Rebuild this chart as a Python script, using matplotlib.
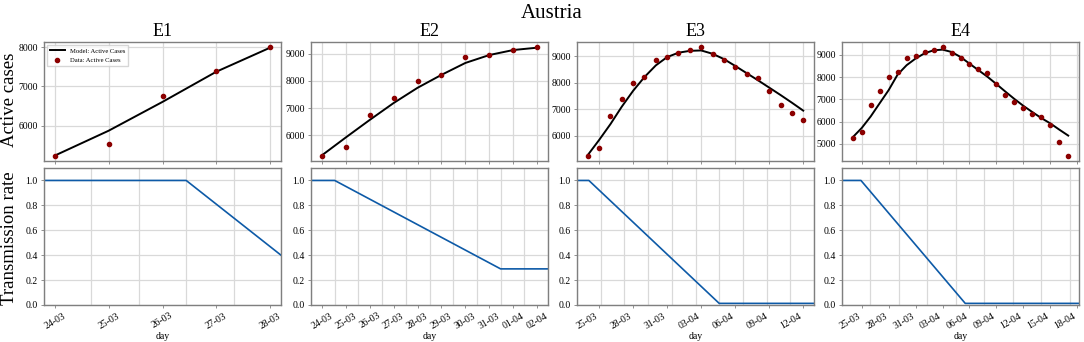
import matplotlib
matplotlib.use('Agg')
import matplotlib.pyplot as plt
import pandas as pd
from matplotlib.ticker import MultipleLocator, FixedLocator, NullFormatter

plt.rcParams['font.family'] = 'serif'
plt.rcParams['font.serif'] = ['Liberation Serif', 'DejaVu Serif']

# Datos observados: casos activos en Austria desde el 24-03
dias = pd.date_range('2020-03-24', periods=30, freq='D')
etiquetas = [d.strftime('%d-%m') for d in dias]
datos = [5250, 5550, 6750, 7380, 7990, 8230, 8880, 8960, 9130, 9230, 9340, 9100,
         8850, 8610, 8350, 8170, 7710, 7180, 6870, 6610, 6340, 6210, 5860, 5090, 4470]

# Curvas del modelo (una por experimento)
modelo_e1 = [5250, 5880, 6610, 7375, 7985]
modelo_e2 = [5256, 5915, 6560, 7183, 7744, 8220, 8659, 8950, 9134, 9220]
modelo_e3 = [5270, 5840, 6440, 7100, 7700, 8220, 8660, 8975, 9140, 9210,
             9225, 9100, 8900, 8640, 8370, 8100, 7820, 7540, 7250, 6950]
modelo_e4 = [5297, 5714, 6234, 6829, 7420, 8120, 8540, 8840, 9075, 9210, 9240, 9135,
             8910, 8610, 8315, 8020, 7690, 7350, 7020, 6710, 6430, 6160, 5920, 5640, 5370]

# Tasa de transmisión (puntos de quiebre en tiempo del modelo)
trans_t_e1 = [0, 3, 5]
trans_v_e1 = [1.0, 1.0, 0.4]
trans_t_e2 = [0, 1, 8, 10]
trans_v_e2 = [1.0, 1.0, 0.29, 0.29]
trans_t_e3 = [0, 1, 12, 20]
trans_v_e3 = [1.0, 1.0, 0.013, 0.013]
trans_t_e4 = [0, 2, 13, 25]
trans_v_e4 = [1.0, 1.0, 0.013, 0.013]

experimentos = [
    ('E1', modelo_e1, trans_t_e1, trans_v_e1, 5, 1, 1, 0, 'center'),
    ('E2', modelo_e2, trans_t_e2, trans_v_e2, 10, 1, 1, 0, 'center'),
    ('E3', modelo_e3, trans_t_e3, trans_v_e3, 20, 2, 3, 1, 'right'),
    ('E4', modelo_e4, trans_t_e4, trans_v_e4, 25, 3, 3, 1, 'right'),
]

gris_spine = '#7f7f7f'
gris_grid = '#d9d9d9'
azul = '#0d5aa7'

fig = plt.figure(figsize=(10.84, 3.42), dpi=100)
W, H = 1084.0, 342.0
izq = [44, 311, 577, 842]
ancho = 237

def estilo(ax):
    for s in ax.spines.values():
        s.set_color(gris_spine)
        s.set_linewidth(1.0)
    ax.tick_params(labelsize=7, length=2.5, width=0.6, color=gris_spine, pad=2)
    ax.set_axisbelow(True)

for i, (nombre, modelo, tt, tv, N, paso, cada, inicio, alin) in enumerate(experimentos):
    n = len(modelo)
    x = list(range(n))
    ax1 = fig.add_axes([izq[i] / W, 1 - 161 / H, ancho / W, 119 / H])
    ax2 = fig.add_axes([izq[i] / W, 1 - 305 / H, ancho / W, 137 / H])

    # Panel superior: casos activos
    ax1.plot(x, modelo, color='black', lw=1.4, label='Model: Active Cases')
    ax1.plot(x, datos[:n], 'o', color='darkred', ms=3.0, label='Data: Active Cases')
    ticks = list(range(inicio, n + (1 if cada == 1 else 6), cada))
    lo, hi = ax1.get_xlim()
    ticks = [t for t in ticks if lo <= t <= hi]
    ax1.set_xticks(ticks)
    ax1.xaxis.set_major_formatter(NullFormatter())
    ax1.yaxis.set_major_locator(MultipleLocator(1000))
    ax1.grid(True, color=gris_grid, lw=0.9)
    estilo(ax1)
    ax1.set_title(nombre, fontsize=13, pad=4)
    if i == 0:
        ax1.legend(loc='upper left', fontsize=4.8, frameon=True, edgecolor='#cccccc',
                   fancybox=False, borderpad=0.4, handlelength=2.2, labelspacing=0.6)

    # Panel inferior: tasa de transmisión
    ax2.plot(tt, tv, color=azul, lw=1.2)
    ax2.set_xlim(0, N)
    ax2.set_ylim(0, 1.1)
    ax2.xaxis.set_minor_locator(MultipleLocator(paso))
    pos = [(t - lo) / (hi - lo) * N for t in ticks]
    ax2.xaxis.set_major_locator(FixedLocator(pos))
    ax2.set_xticklabels([etiquetas[t] for t in ticks], rotation=30, ha=alin)
    ax2.tick_params(axis='x', which='minor', length=0)
    ax2.grid(True, which='minor', axis='x', color=gris_grid, lw=0.9)
    ax2.grid(True, which='major', axis='y', color=gris_grid, lw=0.9)
    ax2.set_yticks([0.0, 0.2, 0.4, 0.6, 0.8, 1.0])
    ax2.set_yticklabels(['0.0', '0.2', '0.4', '0.6', '0.8', '1.0'])
    estilo(ax2)
    ax2.set_xlabel('day', fontsize=7, labelpad=1)

fig.text(10 / W, 1 - 100 / H, 'Active cases', rotation=90, ha='center', va='center', fontsize=13.5)
fig.text(10 / W, 1 - 238 / H, 'Transmission rate', rotation=90, ha='center', va='center', fontsize=13.5)
fig.text(552 / W, 1 - 13 / H, 'Austria', ha='center', va='center', fontsize=15)

fig.savefig('out.png', dpi=100)
